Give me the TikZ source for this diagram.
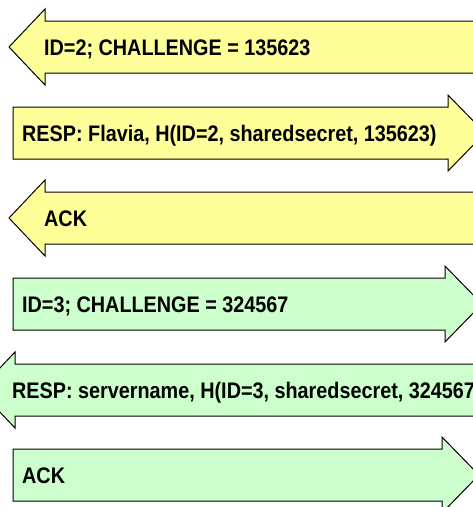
\documentclass[tikz,border=0pt]{standalone}
\usepackage{fontspec}
\newfontfamily\msgfont{Liberation Sans}[FakeStretch=0.88]
\definecolor{msgyellow}{RGB}{255,255,153}
\definecolor{msggreen}{RGB}{204,255,204}
\begin{document}
\begin{tikzpicture}[x=1pt,y=-1pt,
  arrowbody/.style={draw=black,line width=1pt,line join=miter},
  yellowarrow/.style={arrowbody,fill=msgyellow},
  greenarrow/.style={arrowbody,fill=msggreen},
  msg/.style={anchor=base west,inner sep=0pt,
    font=\msgfont\bfseries\fontsize{22.5}{25}\selectfont}]
\useasboundingbox (0,0) rectangle (473,507);
\clip (0,0) rectangle (473,507);
\fill[white] (0,0) rectangle (473,507);

% server -> client: challenge (yellow, leftwards)
\draw[yellowarrow] (9,47) -- (45,9) -- (45,21) -- (490,21) -- (490,73)
  -- (45,73) -- (45,85) -- cycle;
\node[msg] (m1) at (44,55) {ID=2; CHALLENGE = 135623};

% client -> server: response
\draw[yellowarrow] (13,107) -- (448,107) -- (448,95) -- (485,133)
  -- (448,171) -- (448,159) -- (13,159) -- cycle;
\node[msg] (m2) at (22,141) {RESP: Flavia, H(ID=2, sharedsecret, 135623)};

% server -> client: ack
\draw[yellowarrow] (9,218) -- (45,180) -- (45,192) -- (490,192) -- (490,244)
  -- (45,244) -- (45,256) -- cycle;
\node[msg] (m3) at (44,226) {ACK};

% client -> server: challenge (green, rightwards)
\draw[greenarrow] (13,278) -- (445,278) -- (445,266) -- (482,304)
  -- (445,342) -- (445,330) -- (13,330) -- cycle;
\node[msg] (m4) at (22,312) {ID=3; CHALLENGE = 324567};

% server -> client: response
\draw[greenarrow] (-21,390) -- (15,352) -- (15,364) -- (520,364) -- (520,416)
  -- (15,416) -- (15,428) -- cycle;
\node[msg] (m5) at (12,398) {RESP: servername, H(ID=3, sharedsecret, 324567)};

% client -> server: ack
\draw[greenarrow] (13,449) -- (442,449) -- (442,437) -- (479,475)
  -- (442,513) -- (442,501) -- (13,501) -- cycle;
\node[msg] (m6) at (22,483) {ACK};
\end{tikzpicture}
\end{document}
